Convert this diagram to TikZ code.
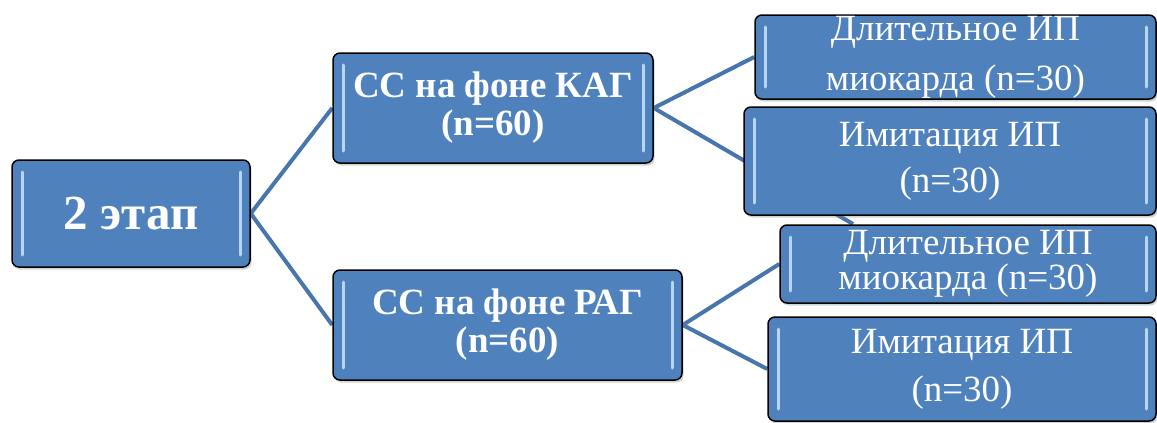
\documentclass[tikz,border=0pt]{standalone}
\usepackage{fontspec}
\setmainfont{Liberation Serif}
\usetikzlibrary{positioning,shadows,backgrounds}

\definecolor{boxblue}{RGB}{79,129,189}
\definecolor{lineblue}{RGB}{72,117,172}
\definecolor{glossblue}{RGB}{196,224,250}

\tikzset{
    stagebox/.style={draw=black, line width=1.5pt, rounded corners=7pt, fill=boxblue, inner sep=0pt,
        drop shadow={shadow xshift=1.5pt, shadow yshift=-2.5pt, opacity=.35},
        path picture={
            \draw[glossblue, line width=3pt, line cap=round, opacity=.9]
                ([xshift=10pt,yshift=-12pt]path picture bounding box.north west) --
                ([xshift=10pt,yshift=12pt]path picture bounding box.south west);
            \draw[glossblue, line width=3pt, line cap=round, opacity=.9]
                ([xshift=-10pt,yshift=-12pt]path picture bounding box.north east) --
                ([xshift=-10pt,yshift=12pt]path picture bounding box.south east);
        }},
    boxtext/.style={text=white, align=center, inner sep=0pt, font=\fontsize{37}{48}\selectfont},
    boldtext/.style={boxtext, font=\bfseries\fontsize{37}{38}\selectfont},
    link/.style={lineblue, line width=4pt}
}

\begin{document}
\begin{tikzpicture}[x=1pt, y=-1pt]
    \useasboundingbox (0,0) rectangle (1157,423);

    %stage
    \node[stagebox, minimum width=238pt, minimum height=107pt,
        label={[boldtext, font=\bfseries\fontsize{49}{56}\selectfont]center:2 этап}] (stage) at (131,213.5) {};

    %groups
    \node[stagebox, minimum width=320pt, minimum height=110pt,
        label={[boldtext]center:{СС на фоне КАГ\\(n=60)}}] (kag) at (493,108) {};
    \node[stagebox, minimum width=349pt, minimum height=110pt,
        label={[boldtext]center:{СС на фоне РАГ\\(n=60)}}] (rag) at (507.5,325) {};

    %subgroups
    \node[stagebox, minimum width=401pt, minimum height=84pt,
        label={[boxtext]center:{Длительное ИП\\[2pt]миокарда (n=30)}}] (dl1) at (955.5,57) {};
    \node[stagebox, minimum width=412pt, minimum height=108pt,
        label={[boxtext]center:{Имитация ИП\\[-2pt](n=30)}}] (im1) at (950,161) {};
    \node[stagebox, minimum width=376pt, minimum height=78pt,
        label={[boxtext]center:{Длительное ИП\\[-13pt]миокарда (n=30)}}] (dl2) at (968,264) {};
    \node[stagebox, minimum width=388pt, minimum height=104pt,
        label={[boxtext]center:{Имитация ИП\\(n=30)}}] (im2) at (962,369) {};

    \coordinate (im1-tail) at (853,224);

    %links
    \begin{scope}[on background layer]
        \foreach \a/\b in {stage/kag, stage/rag, kag/dl1, rag/dl2, rag/im2}
            \draw[link] (\a.east) -- (\b.west);
        \draw[link] (kag.east) -- (im1-tail);
    \end{scope}

\end{tikzpicture}
\end{document}
